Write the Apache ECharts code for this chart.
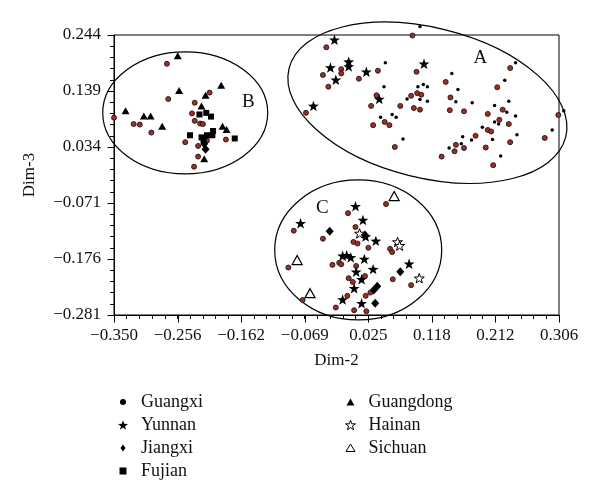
<!DOCTYPE html>
<html>
<head>
<meta charset="utf-8">
<script src="https://cdn.jsdelivr.net/npm/echarts@6/dist/echarts.min.js"></script>
<style>html,body{margin:0;background:#fff}#chart{width:600px;height:503px}</style>
</head>
<body>
<div id="chart"></div>
<script>
// tick labels
const xTicks = [-0.350, -0.256, -0.162, -0.069, 0.025, 0.118, 0.212, 0.306];
const yTicks = [-0.281, -0.176, -0.071, 0.034, 0.139, 0.244];

// Guangxi (red dots)
const guangxi = [
  [-0.272,0.190],[-0.270,0.124],[-0.350,0.089],[-0.321,0.077],[-0.312,0.076],[-0.295,0.061],
  [-0.231,0.117],[-0.209,0.136],[-0.235,0.097],[-0.231,0.083],[-0.223,0.078],[-0.219,0.077],
  [-0.245,0.043],[-0.226,0.036],[-0.213,0.046],[-0.185,0.048],[-0.226,0.016],[-0.232,-0.003],
  [-0.037,0.221],[0.090,0.243],[-0.042,0.169],[-0.015,0.180],[-0.015,0.172],[-0.034,0.147],
  [0.011,0.162],[0.039,0.177],[0.096,0.175],[-0.067,0.098],[0.037,0.131],[0.029,0.111],
  [0.032,0.075],[0.049,0.081],[0.056,0.075],[0.072,0.111],[0.088,0.130],[0.097,0.135],
  [0.103,0.132],[0.092,0.107],[0.101,0.104],[0.064,0.034],[0.139,0.156],[0.146,0.127],
  [0.145,0.103],[0.166,0.101],[0.234,0.182],[0.215,0.146],[0.201,0.096],[0.223,0.104],
  [0.218,0.085],[0.232,0.077],[0.201,0.066],[0.206,0.063],[0.183,0.055],[0.154,0.038],
  [0.152,0.026],[0.166,0.032],[0.133,0.016],[0.198,0.033],[0.234,0.043],[0.209,0.000],
  [0.285,0.051],[0.305,0.094],
  [0.051,-0.073],[-0.005,-0.090],[-0.085,-0.123],[-0.042,-0.138],[0.006,-0.116],[0.003,-0.144],
  [0.009,-0.147],[0.025,-0.155],[0.057,-0.157],[0.060,-0.163],[-0.028,-0.187],[-0.018,-0.183],
  [-0.015,-0.186],[0.007,-0.189],[-0.093,-0.192],[-0.004,-0.212],[0.002,-0.219],[0.020,-0.208],
  [0.061,-0.214],[0.088,-0.225],[-0.006,-0.245],[0.021,-0.245],[0.028,-0.239],[-0.072,-0.253],
  [-0.023,-0.267],[0.004,-0.272],[0.022,-0.274]
];
// small black dots (no legend entry)
const blackDots = [
  [0.101,0.260],[0.050,0.192],[0.048,0.147],[0.082,0.124],[0.098,0.147],[0.106,0.151],
  [0.112,0.147],[0.101,0.123],[0.112,0.120],[0.043,0.090],[0.060,0.095],[0.066,0.090],
  [0.076,0.049],[0.148,0.172],[0.157,0.142],[0.154,0.119],[0.178,0.117],[0.242,0.192],
  [0.226,0.159],[0.232,0.120],[0.211,0.112],[0.229,0.099],[0.242,0.092],[0.211,0.081],
  [0.217,0.077],[0.193,0.071],[0.244,0.057],[0.208,0.048],[0.164,0.053],[0.177,0.047],
  [0.162,0.040],[0.144,0.032],[0.220,0.017],[0.296,0.066],[0.313,0.102]
];
const yunnan = [
  [-0.025,0.235],[-0.031,0.183],[-0.023,0.160],[-0.004,0.194],[-0.004,0.185],[0.022,0.175],
  [-0.056,0.111],[0.041,0.124],[0.107,0.190],
  [0.006,-0.077],[0.017,-0.103],[-0.075,-0.109],[0.036,-0.142],[0.021,-0.134],[-0.007,-0.169],
  [-0.013,-0.170],[-0.001,-0.173],[0.019,-0.176],[0.032,-0.195],[0.007,-0.200],[0.015,-0.214],
  [0.004,-0.231],[0.085,-0.185],[-0.013,-0.252],[0.015,-0.259]
];
const jiangxi = [
  [-0.215,0.030],[-0.217,0.040],[-0.032,-0.124],[0.020,-0.131],[0.072,-0.200],[0.038,-0.227],
  [0.033,-0.234],[0.035,-0.259]
];
const fujian = [
  [-0.224,0.095],[-0.214,0.098],[-0.207,0.091],[-0.238,0.056],[-0.221,0.052],[-0.213,0.056],
  [-0.204,0.064],[-0.205,0.056],[-0.172,0.050],[-0.218,0.047]
];
const guangdong = [
  [-0.256,0.205],[-0.254,0.140],[-0.192,0.150],[-0.215,0.131],[-0.333,0.102],[-0.306,0.092],
  [-0.296,0.092],[-0.279,0.073],[-0.221,0.111],[-0.190,0.073],[-0.184,0.067],[-0.217,0.012]
];
const hainan = [[0.012,-0.128],[0.068,-0.144],[0.071,-0.151],[0.100,-0.212]];
const sichuan = [[0.063,-0.058],[-0.080,-0.178],[-0.061,-0.240]];

// cluster ellipses: name, centre, semi axes (x units, y units), tilt (deg, clockwise)
const clusterNames = ['A', 'B', 'C'];
const clusterCenters = [[0.112, 0.117], [-0.245, 0.098], [0.010, -0.159]];
const clusterRadii = [[0.2101, 0.1408], [0.1216, 0.1144], [0.1231, 0.1313]];
const clusterTilt = [13.9, 0, 0];
const clusterLabelAt = [[0.190, 0.201], [-0.152, 0.118], [-0.043, -0.080]];

const FONT = 'Liberation Serif';
const X0 = xTicks[0], X1 = xTicks[xTicks.length - 1];
const Y0 = yTicks[0], Y1 = yTicks[yTicks.length - 1];
const NX = xTicks.length - 1, NY = yTicks.length - 1;
const MINOR = 5; // minor divisions per major step
// map values onto tick-index units so ticks sit on whole numbers
const ux = v => (v - X0) / (X1 - X0) * NX;
const uy = v => (v - Y0) / (Y1 - Y0) * NY;
const conv = arr => arr.map(p => [ux(p[0]), uy(p[1])]);
const fmt = n => n.toFixed(3).replace('-', '\u2212');
// label only the whole-number (major) positions
const xLabel = v => Math.abs(v - Math.round(v)) < 1e-6 ? fmt(xTicks[Math.round(v)]) : '';
const yLabel = v => Math.abs(v - Math.round(v)) < 1e-6 ? fmt(yTicks[Math.round(v)]) : '';

const STAR = 'path://M0,-10L2.35,-3.24L9.51,-3.09L3.8,1.24L5.88,8.09L0,4L-5.88,8.09L-3.8,1.24L-9.51,-3.09L-2.35,-3.24Z';
// legend icons: the leading moves pad the box so the drawn mark is smaller
const PAD = 'M-10,-10M10,10';
const ICON_DOT = 'path://' + PAD + 'M0,-6A6,6,0,1,1,0,6A6,6,0,1,1,0,-6Z';
const ICON_DIAMOND = 'path://' + PAD + 'M0,-7L5,0L0,7L-5,0Z';
const ICON_SQUARE = 'path://' + PAD + 'M-7,-7L7,-7L7,7L-7,7Z';
const ICON_TRI = 'path://' + PAD + 'M0,-7L8,7L-8,7Z';
const ICON_TRI_O = 'path://' + PAD + 'M0,-8L9,7L-9,7Z';

const clusterData = clusterNames.map((n, i) => [
  ux(clusterCenters[i][0]), uy(clusterCenters[i][1]),
  clusterRadii[i][0] / (X1 - X0) * NX, clusterRadii[i][1] / (Y1 - Y0) * NY,
  clusterTilt[i],
  ux(clusterLabelAt[i][0]), uy(clusterLabelAt[i][1])
]);

// major tick positions get a longer stroke, drawn on top of the axis ticks
const majorTicks = [];
for (let k = 0; k <= NX; k++) majorTicks.push([k, 0]);
for (let k = 0; k <= NY; k++) majorTicks.push([k, 1]);

const chart = echarts.init(document.getElementById('chart'));

const labelStyle = { fontFamily: FONT, fontSize: 17, color: '#111' };
const legendText = { fontFamily: FONT, fontSize: 18, color: '#111', lineHeight: 18, padding: [0, 0, 0, 8] };
const hollow = { color: '#fff', borderColor: '#000', borderWidth: 1 };

const option = {
  animation: false,
  backgroundColor: '#fff',
  grid: { left: 114, top: 35, right: 41, bottom: 188, show: true, borderColor: '#000', borderWidth: 1 },
  xAxis: {
    type: 'value', min: 0, max: NX, interval: 1 / MINOR,
    name: 'Dim-2', nameLocation: 'middle', nameGap: 37,
    nameTextStyle: labelStyle,
    axisLine: { show: true, lineStyle: { color: '#000', width: 1 } },
    axisTick: { show: true, length: 4, lineStyle: { color: '#000' } },
    splitLine: { show: false },
    axisLabel: Object.assign({ margin: 12, showMinLabel: true, showMaxLabel: true, hideOverlap: false,
      formatter: xLabel }, labelStyle)
  },
  yAxis: {
    type: 'value', min: 0, max: NY, interval: 1 / MINOR,
    name: 'Dim-3', nameLocation: 'middle', nameGap: 76,
    nameTextStyle: labelStyle,
    axisLine: { show: true, lineStyle: { color: '#000', width: 1 } },
    axisTick: { show: true, length: 4, lineStyle: { color: '#000' } },
    splitLine: { show: false },
    axisLabel: Object.assign({ margin: 13, showMinLabel: true, showMaxLabel: true, hideOverlap: false,
      formatter: yLabel }, labelStyle)
  },
  legend: [
    {
      orient: 'vertical', left: 113, top: 388, itemWidth: 10, itemHeight: 10, itemGap: 5,
      selectedMode: false, textStyle: legendText,
      data: [
        { name: 'Guangxi', icon: ICON_DOT, itemStyle: { color: '#000', borderWidth: 0 } },
        { name: 'Yunnan' },
        { name: 'Jiangxi', icon: ICON_DIAMOND },
        { name: 'Fujian', icon: ICON_SQUARE }
      ]
    },
    {
      orient: 'vertical', left: 340, top: 388, itemWidth: 10, itemHeight: 10, itemGap: 5,
      selectedMode: false, textStyle: legendText,
      data: [
        { name: 'Guangdong', icon: ICON_TRI },
        { name: 'Hainan', itemStyle: hollow },
        { name: 'Sichuan', icon: ICON_TRI_O, itemStyle: hollow }
      ]
    }
  ],
  series: [
    {
      type: 'custom', name: 'major ticks', silent: true, clip: false, z: 1,
      data: majorTicks,
      renderItem: function (params, api) {
        const onY = api.value(1) === 1;
        const p = onY ? api.coord([0, api.value(0)]) : api.coord([api.value(0), 0]);
        const x = Math.round(p[0]) + 0.5, y = Math.round(p[1]) + 0.5;
        return {
          type: 'line',
          shape: onY ? { x1: x - 7, y1: y, x2: x, y2: y } : { x1: x, y1: y, x2: x, y2: y + 7 },
          style: { stroke: '#000', lineWidth: 1 }
        };
      }
    },
    {
      type: 'custom', name: 'clusters', silent: true, clip: false, z: 1,
      data: clusterData,
      encode: { x: 0, y: 1 },
      renderItem: function (params, api) {
        const c = api.coord([api.value(0), api.value(1)]);
        const rx = api.size([api.value(2), 0])[0];
        const ry = api.size([0, api.value(3)])[1];
        const lp = api.coord([api.value(5), api.value(6)]);
        return {
          type: 'group',
          children: [
            { type: 'ellipse', x: c[0], y: c[1], rotation: -api.value(4) * Math.PI / 180,
              shape: { cx: 0, cy: 0, rx: rx, ry: ry },
              style: { fill: 'none', stroke: '#000', lineWidth: 1.2 } },
            { type: 'text', x: lp[0], y: lp[1],
              style: { text: clusterNames[params.dataIndex], fontFamily: FONT, fontSize: 19,
                fill: '#111', align: 'center', verticalAlign: 'middle' } }
          ]
        };
      }
    },
    { type: 'scatter', name: 'Guangxi', clip: false, symbol: 'circle', symbolSize: 5,
      itemStyle: { color: '#a32b26', borderColor: '#1a1a1a', borderWidth: 0.9, opacity: 1 },
      data: conv(guangxi) },
    { type: 'scatter', name: 'Guangxi dots', clip: false, symbol: 'circle', symbolSize: 3.5,
      itemStyle: { color: '#000', opacity: 1 }, data: conv(blackDots) },
    { type: 'scatter', name: 'Fujian', clip: false, symbol: 'rect', symbolSize: 6,
      itemStyle: { color: '#000', opacity: 1 }, data: conv(fujian) },
    { type: 'scatter', name: 'Guangdong', clip: false, symbol: 'triangle', symbolSize: [8, 7],
      itemStyle: { color: '#000', opacity: 1 }, data: conv(guangdong) },
    { type: 'scatter', name: 'Jiangxi', clip: false, symbol: 'diamond', symbolSize: [8, 9],
      itemStyle: { color: '#000', opacity: 1 }, data: conv(jiangxi) },
    { type: 'scatter', name: 'Yunnan', clip: false, symbol: STAR, symbolKeepAspect: true, symbolSize: 11,
      itemStyle: { color: '#000', opacity: 1 }, data: conv(yunnan) },
    { type: 'scatter', name: 'Hainan', clip: false, symbol: STAR, symbolKeepAspect: true, symbolSize: 10,
      itemStyle: { color: '#fff', borderColor: '#000', borderWidth: 1, opacity: 1 }, data: conv(hainan) },
    { type: 'scatter', name: 'Sichuan', clip: false, symbol: 'triangle', symbolSize: [10, 9],
      itemStyle: { color: '#fff', borderColor: '#000', borderWidth: 1.2, opacity: 1 }, data: conv(sichuan) }
  ]
};

chart.setOption(option);
</script>
</body>
</html>
